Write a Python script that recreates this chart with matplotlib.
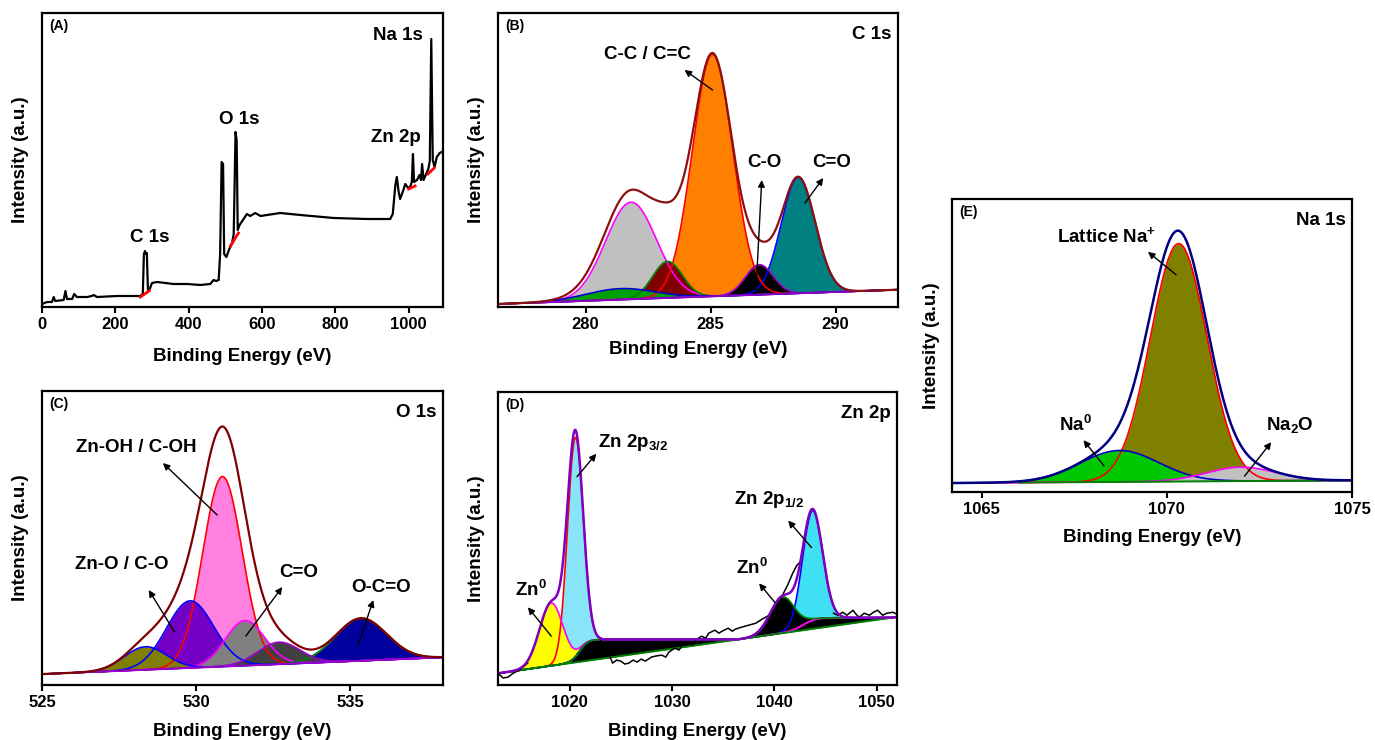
import numpy as np
import matplotlib
matplotlib.use("Agg")
from matplotlib import pyplot as plt

plt.rcParams['font.family'] = ['Liberation Sans', 'DejaVu Sans']
plt.rcParams['font.weight'] = 'bold'
plt.rcParams['axes.labelweight'] = 'bold'
plt.rcParams['mathtext.fontset'] = 'custom'
plt.rcParams['mathtext.rm'] = 'Liberation Sans:bold'
plt.rcParams['mathtext.bf'] = 'Liberation Sans:bold'
plt.rcParams['mathtext.default'] = 'bf'

# ---------------- (A) survey spectrum ----------------
survey_E = [0, 14, 27, 32, 36, 59, 64, 68, 82, 88, 95, 123, 136, 141, 150, 205, 268,
            275, 278, 281, 284, 286, 289, 293, 300, 314, 359, 396, 432, 459, 468, 475,
            482, 486, 490, 494, 497, 503, 511, 518, 523, 525.5, 528, 531, 534, 539, 550,
            559, 568, 582, 596, 650, 705, 796, 886, 950, 957, 964, 968, 973, 977, 986,
            991, 997, 1003, 1009, 1012, 1015, 1023, 1030, 1034, 1037, 1041, 1048, 1054,
            1058, 1062, 1066, 1071, 1077, 1085, 1091, 1094]
survey_I = [3, 5, 5, 10, 6, 7, 16, 8, 8, 13, 10, 10, 11, 12, 10, 11, 11,
            13, 53, 56, 53, 54, 17, 17, 24, 25, 23, 23, 22, 23, 27, 26,
            27, 53, 145, 143, 53, 50, 58, 63, 73, 123, 175, 167, 77, 82, 88,
            93, 91, 94, 91, 94, 92, 89, 88, 88, 93, 122, 130, 115, 108, 117,
            123, 120, 119, 125, 153, 125, 127, 132, 127, 143, 127, 133, 138,
            146, 268, 147, 140, 150, 154, 155, 156]
survey_bg_E = [(268, 292), (514, 536), (1000, 1018), (1053, 1070)]
survey_bg_I = [(10, 16), (61, 74), (118, 121), (133, 139)]
survey_labels = ['C 1s', 'O 1s', 'Zn 2p', 'Na 1s']
survey_label_E = [241, 482, 897, 904]
survey_label_I = [65, 183, 165, 267]

# ---------------- (B) C 1s ----------------
c1s_bg = [(276.5, 3.0), (292.5, 17.3)]
c1s_center = [281.82, 288.51, 285.08, 283.28, 286.95, 281.4]
c1s_height = [97, 116, 242, 36.5, 30, 11]
c1s_fwhm = [2.4, 1.6, 1.9, 1.4, 1.3, 3.2]
c1s_fill = ['#c0c0c0', '#008080', '#ff8000', '#800000', '#000000', '#00a000']
c1s_edge = ['#ff00ff', '#0000ff', '#ff0000', '#008000', '#9900cc', '#0000cc']
c1s_labels = ['C-C / C=C', 'C-O', 'C=O']
c1s_label_xy = [(282.46, 248), (287.14, 140), (289.84, 140)]
c1s_arrow_tail = [(285.08, 217), (286.82, 17), (288.78, 104)]
c1s_arrow_head = [(283.96, 237), (287.05, 127), (289.51, 129)]

# ---------------- (C) O 1s ----------------
o1s_bg = [(525.0, 10.9), (538.0, 27.7)]
o1s_center = [530.85, 529.8, 531.58, 535.34, 528.35, 532.68]
o1s_height = [190, 67, 45, 42.5, 23, 22]
o1s_fwhm = [1.5, 1.8, 1.5, 1.95, 1.6, 1.6]
o1s_fill = ['#ff80e0', '#7300c4', '#808080', '#00009c', '#808000', '#404040']
o1s_edge = ['#ff0000', '#0000ff', '#ff00ff', '#008000', '#0000ff', '#9900cc']
o1s_labels = ['Zn-OH / C-OH', 'Zn-O / C-O', 'C=O', 'O-C=O']
o1s_label_xy = [(528.06, 233), (527.57, 116), (533.32, 108), (536.0, 93)]
o1s_arrow_tail = [(530.68, 170), (529.30, 53), (531.61, 49), (535.25, 40)]
o1s_arrow_head = [(528.92, 222), (528.46, 95), (532.79, 98), (535.74, 85)]

# ---------------- (D) Zn 2p ----------------
zn_bg = [(1013.0, 11.7), (1052.0, 68.3)]
zn_step_level = [45.7, 67.5]
zn_step_onset = [1021.0, 1043.0]
zn_step_width = [0.4, 0.6]
zn_center = [1020.55, 1043.74, 1018.2, 1040.8]
zn_height = [220, 110, 63, 36]
zn_fwhm = [1.8, 2.3, 2.7, 2.8]
zn_fill = ['#88e4f8', '#40e0f4', '#ffff00', '#000000']
zn_edge = ['#ff0000', '#0000ff', '#ff00ff', '#008000']
zn_raw_E = [[1013.0, 1013.5, 1014.0, 1014.5, 1015.1, 1015.9],
            [1023.0, 1023.6, 1024.0, 1024.2, 1024.6, 1025.0, 1025.4, 1025.8, 1026.2, 1026.6,
             1027.0, 1027.4, 1028.0, 1028.4, 1029.0, 1029.4, 1029.7, 1030.3, 1030.7, 1031.0,
             1031.6, 1032.0, 1032.3, 1032.9, 1033.3, 1033.6, 1034.2, 1034.6, 1034.9, 1035.5,
             1035.9, 1036.2, 1036.8, 1037.5, 1038.2, 1038.8, 1039.5, 1040.2, 1040.8, 1041.3,
             1041.8, 1042.2, 1042.6],
            [1045.8, 1046.2, 1046.7, 1047.1, 1047.7, 1048.0, 1048.3, 1048.8, 1049.3, 1049.7,
             1050.1, 1050.6, 1051.0, 1051.6, 1052.0]]
zn_raw_I = [[12, 7, 8, 12, 15, 22],
            [45, 33, 27, 22, 25, 24, 21, 22, 25, 23,
             26, 24, 28, 29, 30, 28, 33, 37, 35, 40,
             42, 40, 45, 49, 47, 52, 55, 52, 54, 57,
             54, 56, 58, 60, 62, 66, 70, 78, 90, 100,
             112, 120, 124],
            [72, 70, 73, 70, 75, 71, 68, 72, 70, 73,
             75, 70, 72, 73, 71]]
zn_labels = [r'Zn 2p$_{3/2}$', r'Zn$^{0}$', r'Zn$^{0}$', r'Zn 2p$_{1/2}$']
zn_label_xy = [(1022.77, 239), (1014.62, 89), (1036.30, 111), (1036.04, 182)]
zn_arrow_tail = [(1020.72, 209), (1018.21, 49), (1040.05, 83), (1043.64, 138)]
zn_arrow_head = [(1022.61, 232), (1015.92, 78), (1038.52, 102), (1041.36, 165)]

# ---------------- (E) Na 1s ----------------
na_bg = [(1064.2, 9.0), (1075.0, 11.7)]
na_center = [1070.32, 1068.72, 1072.0]
na_height = [238.7, 31.5, 14]
na_fwhm = [1.8, 2.5, 2.2]
na_fill = ['#808000', '#00c800', '#c0c0c0']
na_edge = ['#ff0000', '#0000c0', '#ff00ff']
na_labels = [r'Lattice Na$^{+}$', r'Na$^{0}$', r'Na$_{2}$O']
na_label_xy = [(1067.03, 251), (1067.08, 61), (1072.67, 62)]
na_arrow_tail = [(1070.25, 218), (1068.31, 26), (1072.10, 16)]
na_arrow_head = [(1069.49, 241), (1067.75, 52), (1072.82, 50)]

W, H = 1375, 740
fig = plt.figure(figsize=(W / 100, H / 100), dpi=100)


def make_axes(left, top, right, bottom, xpad=9.5):
    ax = fig.add_axes([left / W, 1 - bottom / H, (right - left) / W, (bottom - top) / H])
    for s in ax.spines.values():
        s.set_linewidth(1.6)
    ax.set_yticks([])
    ax.tick_params(axis='x', direction='out', length=4, width=1.5, labelsize=12, pad=3)
    ax.set_ylim(0, 294)
    ax.set_xlabel('Binding Energy (eV)', fontsize=13.5, labelpad=xpad)
    ax.set_ylabel('Intensity (a.u.)', fontsize=13.5, labelpad=9)
    return ax


def gauss(x, c, h, w):
    return h * np.exp(-4 * np.log(2) * (x - c) ** 2 / w ** 2)


def line_bg(x, pts):
    (x0, y0), (x1, y1) = pts
    return y0 + (y1 - y0) * (x - x0) / (x1 - x0)


def draw_fit(ax, x, bg, centers, heights, fwhms, fills, edges):
    total = bg.copy()
    for c, h, w, fc, ec in zip(centers, heights, fwhms, fills, edges):
        comp = gauss(x, c, h, w)
        total += comp
        ax.fill_between(x, bg, bg + comp, color=fc, lw=0)
        ax.plot(x, bg + comp, color=ec, lw=1.2)
    return total


def arrows(ax, tails, heads):
    for t, hd in zip(tails, heads):
        ax.annotate('', xy=hd, xytext=t,
                    arrowprops=dict(arrowstyle='-|>', color='k', lw=1,
                                    mutation_scale=10, shrinkA=0, shrinkB=0))


def tags(ax, letter, name):
    ax.text(0.017, 0.955, letter, transform=ax.transAxes, fontsize=10, va='center', ha='left')
    if name:
        ax.text(0.985, 0.955, name, transform=ax.transAxes, fontsize=13.5, va='top', ha='right')


# (A)
ax = make_axes(42, 13, 443, 307, xpad=12)
ax.plot(survey_E, survey_I, color='k', lw=1.6)
for (e0, e1), (i0, i1) in zip(survey_bg_E, survey_bg_I):
    ax.plot([e0, e1], [i0, i1], color='#ff0000', lw=2)
for lab, e, i in zip(survey_labels, survey_label_E, survey_label_I):
    ax.text(e, i, lab, fontsize=13.5, ha='left', va='baseline')
ax.set_xlim(0, 1094)
ax.set_xticks([0, 200, 400, 600, 800, 1000])
tags(ax, '(A)', None)

# (B)
ax = make_axes(498, 13, 898, 307, xpad=7)
x = np.linspace(276.5, 292.5, 800)
bg = line_bg(x, c1s_bg)
env = draw_fit(ax, x, bg, c1s_center, c1s_height, c1s_fwhm, c1s_fill, c1s_edge)
m = x > 278
ax.plot(x[m], bg[m], color='#8b00c8', lw=1.4)
ax.plot(x, env, color='#8b1010', lw=1.6)
arrows(ax, c1s_arrow_tail, c1s_arrow_head)
for lab, (e, i) in zip(c1s_labels, c1s_label_xy):
    ax.text(e, i, lab, fontsize=13.5, ha='center', va='baseline')
ax.set_xlim(276.5, 292.5)
ax.set_xticks([280, 285, 290])
tags(ax, '(B)', 'C 1s')

# (C)
ax = make_axes(42, 391, 443, 685)
x = np.linspace(525, 538, 800)
bg = line_bg(x, o1s_bg)
env = draw_fit(ax, x, bg, o1s_center, o1s_height, o1s_fwhm, o1s_fill, o1s_edge)
m = x > 526.8
ax.plot(x[m], bg[m], color='#9900cc', lw=1.4)
ax.plot(x, env, color='#800000', lw=1.6)
arrows(ax, o1s_arrow_tail, o1s_arrow_head)
for lab, (e, i) in zip(o1s_labels, o1s_label_xy):
    ax.text(e, i, lab, fontsize=13.5, ha='center', va='baseline')
ax.set_xlim(525, 538)
ax.set_xticks([525, 530, 535])
tags(ax, '(C)', 'O 1s')

# (D)
ax = make_axes(498, 392, 897, 685)
x = np.linspace(1013, 1052, 1200)
lin = line_bg(x, zn_bg)
step = np.zeros_like(x)
for lev, on, wd in zip(zn_step_level, zn_step_onset, zn_step_width):
    step = np.maximum(step, np.clip(lev - lin, 0, None) / (1 + np.exp(-(x - on) / wd)))
bg = lin + step
ax.fill_between(x, lin, bg, color='k', lw=0)
ax.plot(x, bg, color='#0000ff', lw=1.2)
env = draw_fit(ax, x, bg, zn_center, zn_height, zn_fwhm, zn_fill, zn_edge)
ax.plot(x, lin, color='#008000', lw=1.4)
for re_, ri in zip(zn_raw_E, zn_raw_I):
    ax.plot(re_, ri, color='k', lw=1.1)
ax.plot(x, env, color='#8000c0', lw=1.8)
arrows(ax, zn_arrow_tail, zn_arrow_head)
for lab, (e, i) in zip(zn_labels, zn_label_xy):
    ax.text(e, i, lab, fontsize=13.5, ha='left', va='baseline')
ax.set_xlim(1013, 1052)
ax.set_xticks([1020, 1030, 1040, 1050])
tags(ax, '(D)', 'Zn 2p')

# (E)
ax = make_axes(952, 199, 1352, 492, xpad=8.5)
x = np.linspace(1064.2, 1075, 800)
bg = line_bg(x, na_bg)
env = draw_fit(ax, x, bg, na_center, na_height, na_fwhm, na_fill, na_edge)
m = x > 1066
ax.plot(x[m], bg[m], color='#008000', lw=1.4)
ax.plot(x, env, color='#000080', lw=1.8)
arrows(ax, na_arrow_tail, na_arrow_head)
for lab, (e, i) in zip(na_labels, na_label_xy):
    ax.text(e, i, lab, fontsize=13.5, ha='left', va='baseline')
ax.set_xlim(1064.2, 1075)
ax.set_xticks([1065, 1070, 1075])
tags(ax, '(E)', 'Na 1s')

fig.savefig('out.png', dpi=100)
